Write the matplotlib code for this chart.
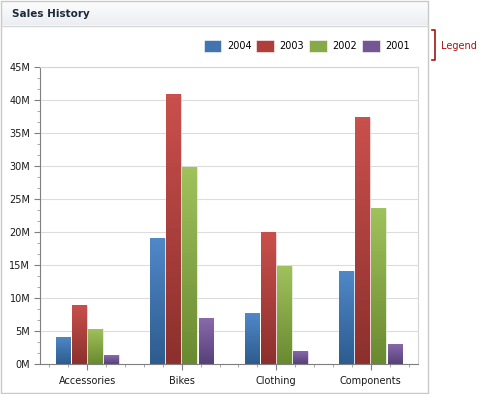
import matplotlib
matplotlib.use("Agg")
import matplotlib.pyplot as plt
import numpy as np
from matplotlib.patches import Rectangle
from matplotlib.colors import LinearSegmentedColormap
from matplotlib.ticker import FuncFormatter, MultipleLocator, FixedLocator

categories = ["Accessories", "Bikes", "Clothing", "Components"]
years = ["2004", "2003", "2002", "2001"]
sales_2004 = [4.1e6, 19.1e6, 7.7e6, 14.1e6]
sales_2003 = [9.0e6, 40.95e6, 20.05e6, 37.5e6]
sales_2002 = [5.35e6, 29.85e6, 14.9e6, 23.7e6]
sales_2001 = [1.3e6, 7.0e6, 2.0e6, 3.1e6]
series = [sales_2004, sales_2003, sales_2002, sales_2001]

# top / mid / bottom shades of each series
shades = [("#5088c8", "#4275b0", "#2d5c8f"), ("#c9504c", "#b03f3c", "#8c302d"),
          ("#a0c25c", "#87a948", "#6a8a30"), ("#8a6aac", "#735693", "#56417a")]

W, H = 478, 394
fig = plt.figure(figsize=(W / 100, H / 100), dpi=100)

# panel background in pixel coords
bg = fig.add_axes([0, 0, 1, 1], zorder=0)
bg.set_xlim(0, W)
bg.set_ylim(H, 0)
bg.axis("off")
grad = np.linspace(0, 1, 50).reshape(-1, 1)
hdr = LinearSegmentedColormap.from_list("hdr", ["#fdfdfd", "#eceef2"])
bg.imshow(grad, cmap=hdr, extent=(1, 428, 25, 1), aspect="auto")
bg.add_patch(Rectangle((0.5, 0.5), 428, 392, fill=False, ec="#c8c8c8", lw=1))
bg.plot([1, 428], [25.5, 25.5], color="#d4d6da", lw=1)
bg.text(12, 13.5, "Sales History", fontsize=7.5, fontweight="bold",
        color="#1e2a3a", va="center", ha="left")
bg.plot([432, 435, 435, 432], [30, 30, 60, 60], color="#a31515", lw=1.2)
bg.text(441, 46, "Legend", fontsize=7, color="#a31515", va="center", ha="left")

ax = fig.add_axes([40 / W, 1 - 364 / H, 378 / W, 297 / H], zorder=1)
x = np.arange(len(categories))
step = 0.17
width = 0.155
bars = []
for i, (vals, (top, mid, bot)) in enumerate(zip(series, shades)):
    offs = x + (i - 1.5) * step
    b = ax.bar(offs, vals, width=width, color=mid, edgecolor="white",
               linewidth=0.4, label=years[i], zorder=2)
    cmap = LinearSegmentedColormap.from_list("s%d" % i, [bot, top])
    for rect in b:
        x0 = rect.get_x()
        h = rect.get_height()
        im = ax.imshow(grad[::-1], cmap=cmap, aspect="auto", zorder=2.5,
                       extent=(x0, x0 + width, 0, h))
        im.set_clip_path(rect)
    bars.append(b)

ax.set_xlim(-0.5, 3.5)
ax.set_ylim(0, 45e6)
ax.yaxis.set_major_locator(MultipleLocator(5e6))
ax.yaxis.set_minor_locator(MultipleLocator(5e6 / 3))
ax.yaxis.set_major_formatter(FuncFormatter(lambda v, p: "%dM" % round(v / 1e6)))
ax.set_xticks(x)
ax.set_xticklabels(categories)
minor_x = [c + d for c in x for d in (-0.4, -0.2, 0.2, 0.4)]
ax.xaxis.set_minor_locator(FixedLocator(minor_x))
ax.grid(axis="y", color="#dcdcdc", lw=0.8, zorder=0)
ax.set_axisbelow(True)

for s in ("top", "right"):
    ax.spines[s].set_color("#d4d4d4")
for s in ("left", "bottom"):
    ax.spines[s].set_color("#7f7f7f")
ax.tick_params(axis="both", which="major", length=4, color="#7f7f7f",
               labelsize=7, labelcolor="#1a1a1a", pad=3)
ax.tick_params(axis="both", which="minor", length=2, color="#9a9a9a")
ax.tick_params(axis="x", which="major", pad=5)

leg = fig.legend(handles=[b[0] for b in bars], labels=years, ncol=4,
                 loc="center right", bbox_to_anchor=(414 / W, 1 - 46 / H),
                 frameon=False, fontsize=7, handlelength=1.8, handleheight=1.4,
                 columnspacing=0.5, handletextpad=0.6, borderaxespad=0)

fig.savefig("out.png", dpi=100)
